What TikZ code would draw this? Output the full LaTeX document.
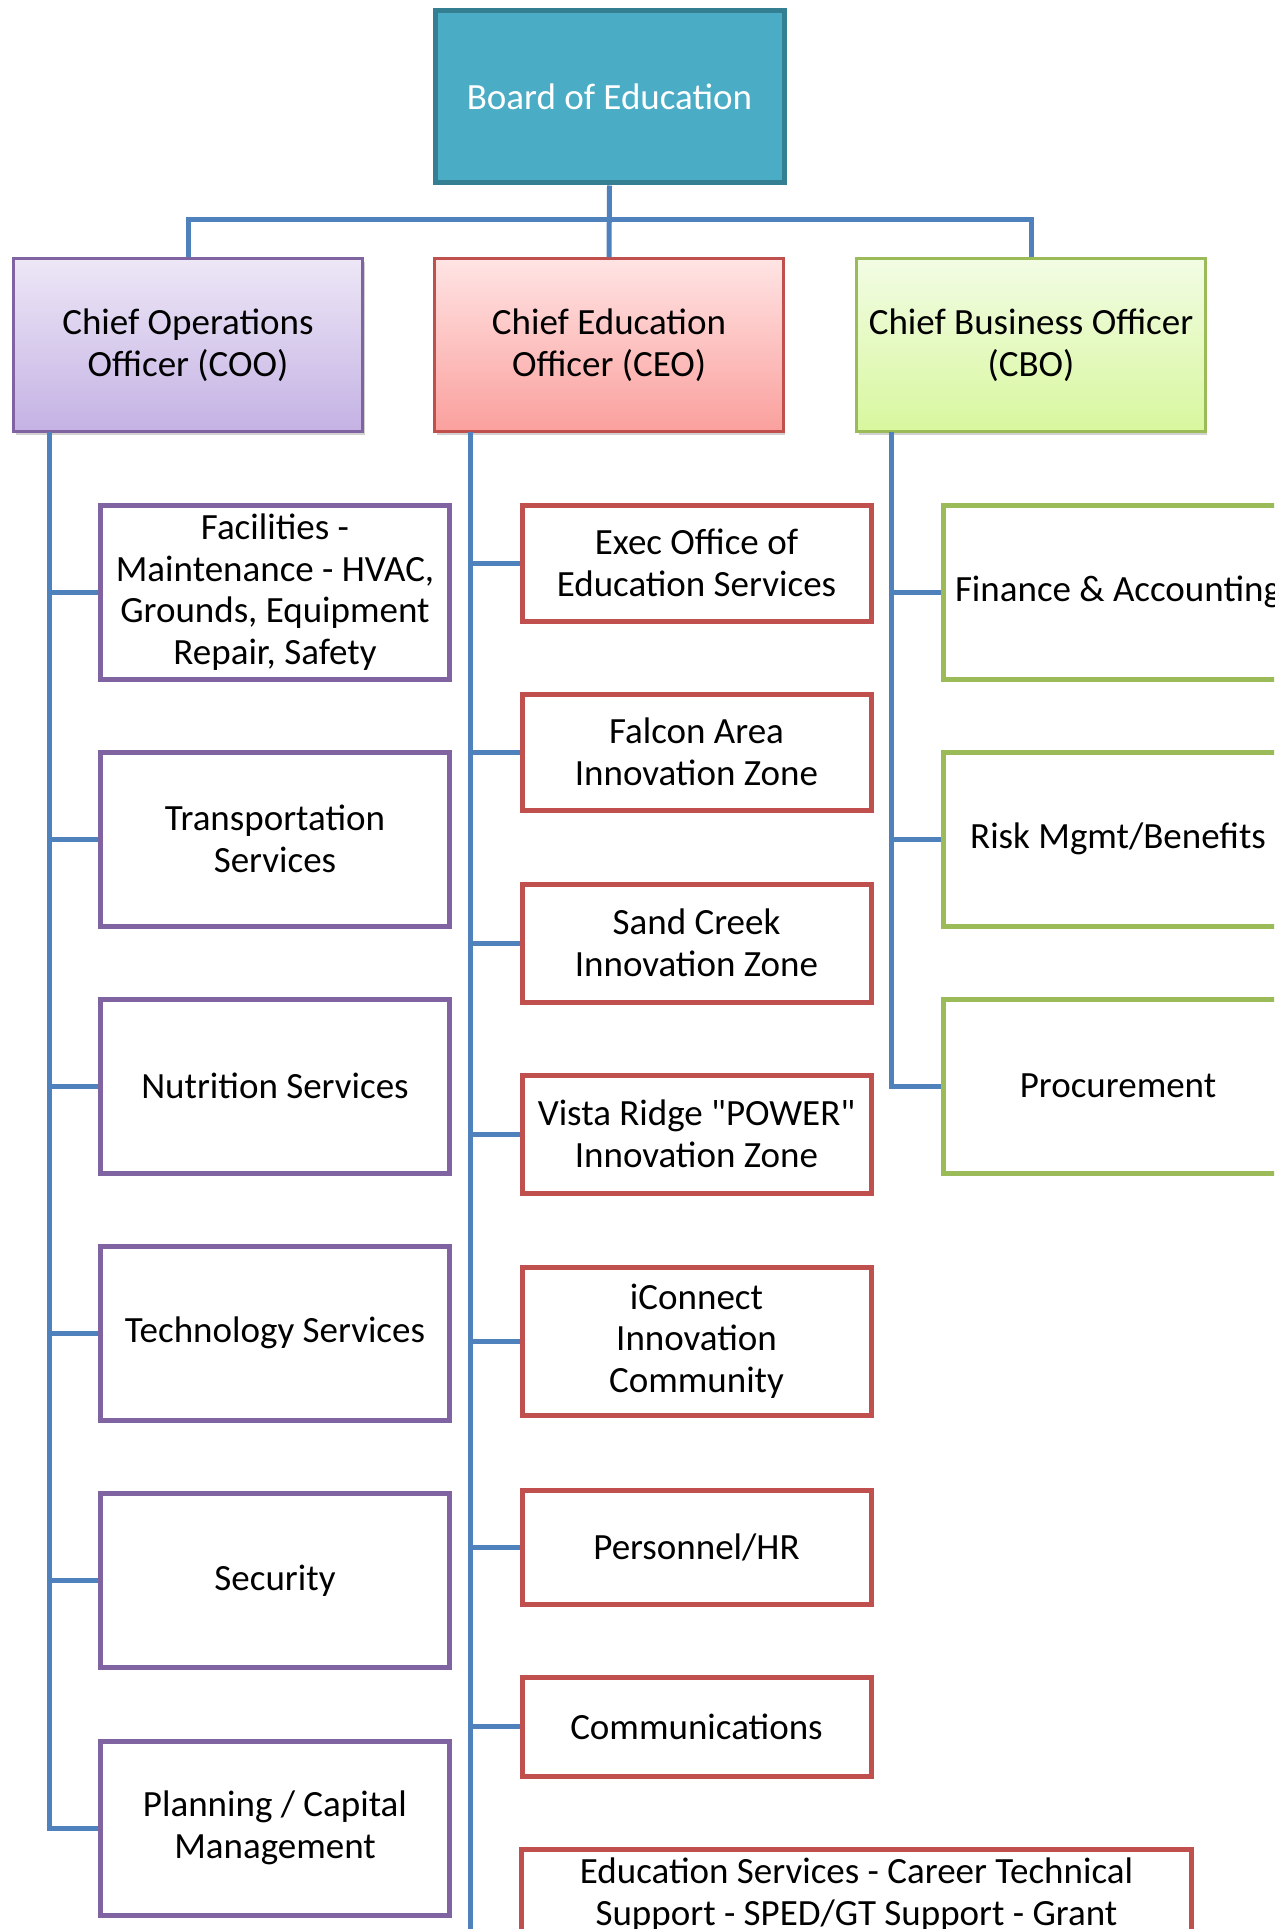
\documentclass[tikz,border=0pt]{standalone}
\usepackage{fontspec}
\setmainfont{Carlito}[Ligatures=TeXOff]
\begin{document}
\begin{tikzpicture}[x=1pt,y=-1pt,
  every node/.style={font=\fontsize{37}{41.5}\selectfont, align=center, inner sep=0pt},
  conn/.style={draw=connc, line width=5pt},
  chief/.style={minimum width=349pt, minimum height=173pt, line width=2.5pt},
  coobox/.style={draw=cooc, line width=5pt, fill=white, minimum width=349pt, minimum height=174pt},
  ceobox/.style={draw=ceoc, line width=5pt, fill=white, minimum width=349pt},
  cbobox/.style={draw=cboc, line width=5pt, fill=white, minimum width=349pt, minimum height=174pt},
]
\definecolor{connc}{HTML}{4F81BD}
\definecolor{cooc}{HTML}{8064A2}
\definecolor{ceoc}{HTML}{C0504D}
\definecolor{cboc}{HTML}{9BBB59}
\definecolor{boardf}{HTML}{4BACC6}
\definecolor{boardd}{HTML}{357F93}
\useasboundingbox (0,0) rectangle (1274,1929);
\clip (0,0) rectangle (1274,1929);
\fill[white] (0,0) rectangle (1274,1929);

% top
\node[fill=boardf, draw=boardd, line width=5pt, minimum width=349pt, minimum height=172pt, text=white] (board) at (609.5,97) {Board of Education};

% shadows
\fill[black!18] (15.5,262) rectangle (365,435);
\fill[black!18] (437,262) rectangle (785,435);
\fill[black!18] (859,262) rectangle (1207,435);

\node[chief, draw=cooc, top color={rgb,255:red,237;green,231;blue,246}, bottom color={rgb,255:red,196;green,178;blue,228}] (coo) at (188,345) {Chief Operations\\Officer (COO)};
\node[chief, draw=ceoc, top color={rgb,255:red,255;green,228;blue,228}, bottom color={rgb,255:red,250;green,160;blue,157}] (ceo) at (609,345) {Chief Education\\Officer (CEO)};
\node[chief, draw=cboc, top color={rgb,255:red,242;green,252;blue,228}, bottom color={rgb,255:red,216;green,247;blue,158}] (cbo) at (1031,345) {Chief Business Officer\\(CBO)};

\draw[conn] (board.south) -- (ceo.north);
\draw[conn] (coo.north) -- ++(0,-38) -| (cbo.north);

% COO column
\node[coobox] (c1) at (275,592) {Facilities -\\Maintenance - HVAC,\\Grounds, Equipment\\Repair, Safety};
\node[coobox] (c2) at (275,839) {Transportation\\Services};
\node[coobox] (c3) at (275,1086) {Nutrition Services};
\node[coobox] (c4) at (275,1333) {Technology Services};
\node[coobox] (c5) at (275,1580.5) {Security};
\node[coobox] (c6) at (275,1828) {Planning / Capital\\Management};

\coordinate (cooT) at (49,432);
\draw[conn] (cooT) |- (c6.west);
\foreach \n in {c1,c2,c3,c4,c5} \draw[conn] (cooT |- \n.west) -- (\n.west);

% CEO column
\node[ceobox, minimum height=116pt] (e1) at (696.5,563) {Exec Office of\\Education Services};
\node[ceobox, minimum height=116pt] (e2) at (696.5,752) {Falcon Area\\Innovation Zone};
\node[ceobox, minimum height=118pt] (e3) at (696.5,943) {Sand Creek\\Innovation Zone};
\node[ceobox, minimum height=118pt] (e4) at (696.5,1134) {Vista Ridge "POWER"\\Innovation Zone};
\node[ceobox, minimum height=148pt] (e5) at (696.5,1341) {iConnect\\Innovation\\Community};
\node[ceobox, minimum height=114pt] (e6) at (696.5,1547) {Personnel/HR};
\node[ceobox, minimum height=99pt] (e7) at (696.5,1726.5) {Communications};
\node[ceobox, minimum width=670pt, minimum height=138pt, anchor=north] (e8) at (856.5,1847) {Education Services - Career Technical\\Support - SPED/GT Support - Grant\\\strut};

\coordinate (ceoT) at (470,432);
\coordinate (ceoB) at (470,1935);
\draw[conn] (ceoT) -- (ceoB);
\foreach \n in {e1,e2,e3,e4,e5,e6,e7} \draw[conn] (ceoT |- \n.west) -- (\n.west);

% CBO column
\node[cbobox] (b1) at (1118,592) {Finance \& Accounting};
\node[cbobox] (b2) at (1118,839) {Risk Mgmt/Benefits};
\node[cbobox] (b3) at (1118,1086) {Procurement};

\coordinate (cboT) at (891,432);
\draw[conn] (cboT) |- (b3.west);
\foreach \n in {b1,b2} \draw[conn] (cboT |- \n.west) -- (\n.west);
\end{tikzpicture}
\end{document}
